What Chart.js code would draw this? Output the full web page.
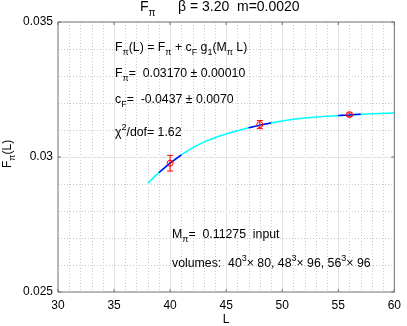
<!DOCTYPE html>
<html><head><meta charset="utf-8">
<script src="https://cdn.jsdelivr.net/npm/chart.js@4/dist/chart.umd.min.js"></script>
<style>html,body{margin:0;padding:0;background:#fff}#wrap{width:407px;height:326px}</style>
</head><body><div id="wrap"><canvas id="c" width="407" height="326"></canvas></div>
<script>
// ---- data ----
const xRange = [30, 60];
const yRange = [0.025, 0.035];
const xTickValues = [30, 35, 40, 45, 50, 55, 60];
const yTickValues = [0.025, 0.03, 0.035];
const yTickLabels = ['0.025', '0.03', '0.035'];
const curveL = [38, 39, 40, 41, 42, 43, 44, 45, 46, 47, 48, 50, 52, 54, 56, 58, 60];
const curveF = [0.02903, 0.02942, 0.02977, 0.03008, 0.03034, 0.03055, 0.03071, 0.03085, 0.03097, 0.03108, 0.03118, 0.03133, 0.03144, 0.03151, 0.03156, 0.03160, 0.03163];
const seg1L = [39, 40, 41], seg1F = [0.02942, 0.02977, 0.03008];
const seg2L = [47, 48, 49], seg2F = [0.03108, 0.03118, 0.03126];
const seg3L = [55, 56, 57], seg3F = [0.03154, 0.03156, 0.03158];
const pointL = [40, 48, 56];
const pointF = [0.02977, 0.03120, 0.03157];
const pointErr = [0.00029, 0.00015, 0.00006];
const titleParts = ['F', 'π', 'β = 3.20', 'm=0.0020'];
const fitText = { Fpi: '0.03170 ± 0.00010', cF: '-0.0437 ± 0.0070', chi: '1.62', Mpi: '0.11275', vols: ['40', '80', '48', '96', '56', '96'] };

const FONT = '"Liberation Sans", Arial, Helvetica, sans-serif';
const pts = (xs, ys) => xs.map((v, i) => ({ x: v, y: ys[i] }));

function rich(ctx, x, y, parts, size) {
  // parts: [text, mode] mode: 0 normal, 1 sub, 2 sup
  let cx = x;
  for (const [t, m] of parts) {
    const fs = m ? Math.round(size * 0.72) : size;
    ctx.font = fs + 'px ' + FONT;
    const dy = m === 1 ? size * 0.35 : (m === 2 ? -size * 0.45 : 0);
    ctx.fillText(t, cx, y + dy);
    cx += ctx.measureText(t).width;
  }
  return cx;
}

const decor = {
  id: 'decor',
  beforeDatasetsDraw(chart) {
    const { ctx, chartArea: a, scales: { x, y } } = chart;
    ctx.save();
    ctx.lineWidth = 1;
    // minor dotted grid
    ctx.strokeStyle = '#c8c8c8';
    ctx.setLineDash([1, 2]);
    for (let v = xRange[0] + 1; v < xRange[1]; v++) {
      if (v % 5 === 0) continue;
      const px = Math.round(x.getPixelForValue(v)) + 0.5;
      ctx.beginPath(); ctx.moveTo(px, a.top); ctx.lineTo(px, a.bottom); ctx.stroke();
    }
    for (let k = 1; k < 10; k++) {
      if (k === 5) continue;
      const py = Math.round(y.getPixelForValue(yRange[0] + k * 0.001)) + 0.5;
      ctx.beginPath(); ctx.moveTo(a.left, py); ctx.lineTo(a.right, py); ctx.stroke();
    }
    // major solid grid
    ctx.setLineDash([]);
    ctx.strokeStyle = '#e4e4e4';
    xTickValues.slice(1, -1).forEach(v => {
      const px = Math.round(x.getPixelForValue(v)) + 0.5;
      ctx.beginPath(); ctx.moveTo(px, a.top); ctx.lineTo(px, a.bottom); ctx.stroke();
    });
    yTickValues.slice(1, -1).forEach(v => {
      const py = Math.round(y.getPixelForValue(v)) + 0.5;
      ctx.beginPath(); ctx.moveTo(a.left, py); ctx.lineTo(a.right, py); ctx.stroke();
    });
    ctx.restore();
  },
  afterDatasetsDraw(chart) {
    const { ctx, chartArea: a, scales: { x, y } } = chart;
    ctx.save();
    // error bars
    ctx.strokeStyle = '#ff0000';
    ctx.lineWidth = 1;
    pointL.forEach((L, i) => {
      const px = x.getPixelForValue(L);
      const y1 = y.getPixelForValue(pointF[i] - pointErr[i]);
      const y2 = y.getPixelForValue(pointF[i] + pointErr[i]);
      ctx.beginPath();
      ctx.moveTo(px, y1); ctx.lineTo(px, y2);
      ctx.moveTo(px - 3, y1); ctx.lineTo(px + 3, y1);
      ctx.moveTo(px - 3, y2); ctx.lineTo(px + 3, y2);
      ctx.stroke();
    });
    // axes box
    ctx.strokeStyle = '#6e6e6e';
    ctx.beginPath();
    ctx.rect(a.left, a.top, a.right - a.left, a.bottom - a.top);
    ctx.stroke();
    // ticks inside
    ctx.beginPath();
    xTickValues.forEach(v => {
      const px = x.getPixelForValue(v);
      ctx.moveTo(px, a.bottom); ctx.lineTo(px, a.bottom - 3);
      ctx.moveTo(px, a.top); ctx.lineTo(px, a.top + 3);
    });
    yTickValues.forEach(v => {
      const py = y.getPixelForValue(v);
      ctx.moveTo(a.left, py); ctx.lineTo(a.left + 3, py);
      ctx.moveTo(a.right, py); ctx.lineTo(a.right - 3, py);
    });
    ctx.stroke();
    ctx.restore();
  },
  afterDraw(chart) {
    const { ctx, chartArea: a } = chart;
    ctx.save();
    ctx.fillStyle = '#000';
    ctx.textBaseline = 'alphabetic';
    // title
    rich(ctx, 140, 11, [[titleParts[0], 0], [titleParts[1], 1]], 14);
    ctx.font = '14px ' + FONT;
    ctx.fillText(titleParts[2], 178, 11);
    ctx.fillText(titleParts[3], 237, 11);
    // x title
    ctx.font = '12px ' + FONT;
    ctx.textAlign = 'center';
    ctx.fillText('L', (a.left + a.right) / 2, 323);
    ctx.textAlign = 'left';
    // y title
    ctx.save();
    ctx.translate(11, 168);
    ctx.rotate(-Math.PI / 2);
    rich(ctx, 0, 0, [['F', 0], ['π', 1], ['(L)', 0]], 12);
    ctx.restore();
    // annotations
    const s = 12.3;
    rich(ctx, 115, 51, [['F', 0], ['π', 1], ['(L) = F', 0], ['π', 1], [' + c', 0], ['F', 1], [' g', 0], ['1', 1], ['(M', 0], ['π', 1], [' L)', 0]], s);
    rich(ctx, 115, 77, [['F', 0], ['π', 1], ['=  ' + fitText.Fpi, 0]], s);
    rich(ctx, 115, 103, [['c', 0], ['F', 1], ['=  ' + fitText.cF, 0]], s);
    rich(ctx, 115, 136, [['χ', 0], ['2', 2], ['/dof= ' + fitText.chi, 0]], s);
    rich(ctx, 172, 238, [['M', 0], ['π', 1], ['=  ' + fitText.Mpi + '  input', 0]], s);
    const v = fitText.vols;
    rich(ctx, 172, 267, [['volumes:  ' + v[0], 0], ['3', 2], ['× ' + v[1] + ', ' + v[2], 0], ['3', 2], ['× ' + v[3] + ', ' + v[4], 0], ['3', 2], ['× ' + v[5], 0]], s);
    ctx.restore();
  }
};

new Chart(document.getElementById('c'), {
  type: 'scatter',
  data: {
    datasets: [
      { data: pts(pointL, pointF), showLine: false, pointRadius: 3, pointBorderColor: '#ff0000', pointBackgroundColor: 'rgba(0,0,0,0)', pointBorderWidth: 1, order: 0 },
      { data: pts(seg1L, seg1F), showLine: true, borderColor: '#0000ff', borderWidth: 1.5, pointRadius: 0, cubicInterpolationMode: 'monotone', order: 1 },
      { data: pts(seg2L, seg2F), showLine: true, borderColor: '#0000ff', borderWidth: 1.5, pointRadius: 0, cubicInterpolationMode: 'monotone', order: 1 },
      { data: pts(seg3L, seg3F), showLine: true, borderColor: '#0000ff', borderWidth: 1.5, pointRadius: 0, cubicInterpolationMode: 'monotone', order: 1 },
      { data: pts(curveL, curveF), showLine: true, borderColor: '#00ffff', borderWidth: 1.5, pointRadius: 0, cubicInterpolationMode: 'monotone', order: 2 }
    ]
  },
  options: {
    responsive: false, animation: false, devicePixelRatio: 1,
    layout: { padding: { top: 22, right: 8, left: 0, bottom: 0 } },
    plugins: { legend: { display: false }, tooltip: { enabled: false }, title: { display: false } },
    scales: {
      x: {
        type: 'linear', min: xRange[0], max: xRange[1],
        afterFit: s => { s.height = 34; },
        grid: { display: false, drawTicks: false }, border: { display: false },
        ticks: { stepSize: 5, padding: 6, color: '#000', font: { family: FONT, size: 12 } }
      },
      y: {
        type: 'linear', min: yRange[0], max: yRange[1],
        afterFit: s => { s.width = 58; },
        afterBuildTicks: s => { s.ticks = yTickValues.map(v => ({ value: v })); },
        grid: { display: false, drawTicks: false }, border: { display: false },
        ticks: { padding: 5, color: '#000', font: { family: FONT, size: 12 },
          callback: v => { const i = yTickValues.findIndex(t => Math.abs(t - v) < 1e-9); return i >= 0 ? yTickLabels[i] : ''; } }
      }
    }
  },
  plugins: [decor]
});
</script>
</body></html>
